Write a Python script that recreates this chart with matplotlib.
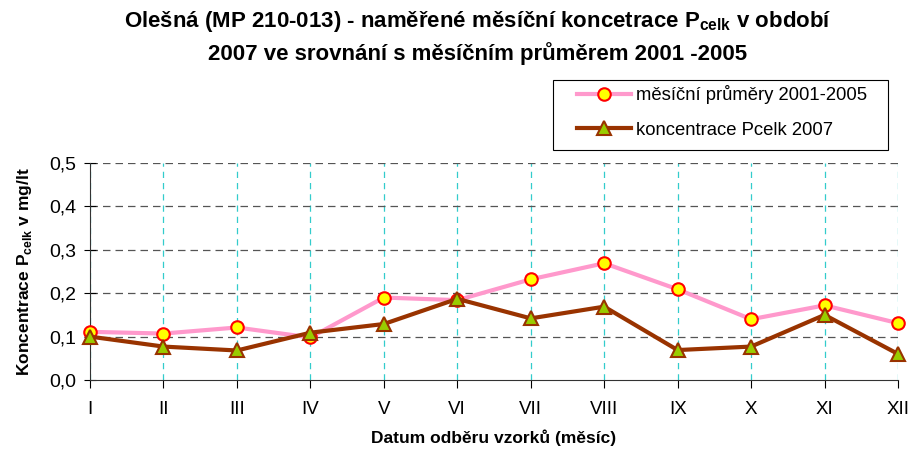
import numpy as np
import matplotlib
matplotlib.use('Agg')
import matplotlib.pyplot as plt
from matplotlib.patches import Rectangle

plt.rcParams['font.family'] = ['Liberation Sans', 'DejaVu Sans']
plt.rcParams['mathtext.fontset'] = 'custom'
plt.rcParams['mathtext.rm'] = 'Liberation Sans'
plt.rcParams['mathtext.bf'] = 'Liberation Sans:bold'

mesice = ['I', 'II', 'III', 'IV', 'V', 'VI', 'VII', 'VIII', 'IX', 'X', 'XI', 'XII']
prumery = [0.111, 0.107, 0.121, 0.098, 0.190, 0.184, 0.232, 0.269, 0.209, 0.140, 0.172, 0.131]
pcelk_2007 = [0.100, 0.077, 0.068, 0.109, 0.129, 0.187, 0.142, 0.169, 0.069, 0.077, 0.150, 0.060]
y_ticks = [0.0, 0.1, 0.2, 0.3, 0.4, 0.5]

W, H = 911, 450
fig = plt.figure(figsize=(W/100, H/100), dpi=100)
ax = fig.add_axes([90/W, 1-380/H, (898-90)/W, (380-163)/H])

x = np.arange(len(mesice))

# mrizka: svisle tyrkysove, vodorovne sede
for xi in x:
    ax.axvline(xi, color='#33cccc', lw=0.9, ls=(0, (5, 4)), zorder=1)
for yv in y_ticks[1:]:
    ax.axhline(yv, color='#555555', lw=0.9, ls=(0, (6, 4)), zorder=1)

ax.plot(x, prumery, color='#ff99cc', lw=3, marker='o', ms=9,
        mfc='#ffff00', mec='#ff0000', mew=1.5, label='měsíční průměry 2001-2005',
        zorder=3, clip_on=False)
ax.plot(x, pcelk_2007, color='#993300', lw=3, marker='^', ms=10,
        mfc='#99cc00', mec='#993300', mew=1.5, label='koncentrace Pcelk 2007',
        zorder=4, clip_on=False)

ax.set_xlim(0, 11)
ax.set_ylim(0, 0.5)
ax.set_xticks(x)
ax.set_xticklabels(mesice)
ax.set_yticks(y_ticks)
ax.set_yticklabels([f'{v:.1f}'.replace('.', ',') for v in y_ticks])
ax.tick_params(axis='y', direction='inout', length=8, labelsize=14, pad=6)
ax.tick_params(axis='x', direction='out', length=6, labelsize=13.5, pad=9)

for s in ['top', 'right']:
    ax.spines[s].set_visible(False)
ax.spines['left'].set_color('#333333')
ax.spines['bottom'].set_color('#333333')

ax.set_xlabel('Datum odběru vzorků (měsíc)', fontsize=12.5, fontweight='bold', labelpad=8)
ax.set_ylabel(r'Koncentrace P$_{\mathbf{celk}}$ v mg/lt', fontsize=12.5, fontweight='bold', labelpad=11)

fig.text(478/W, 1-22/H, r'Olešná (MP 210-013) - naměřené měsíční koncetrace P$_{\mathbf{celk}}$ v období',
         ha='center', va='center', fontsize=16, fontweight='bold')
fig.text(478/W, 1-54/H, '2007 ve srovnání s měsíčním průměrem 2001 -2005',
         ha='center', va='center', fontsize=16, fontweight='bold')

# ramecek legendy
fig.patches.append(Rectangle((553/W, 1-150/H), (888-553)/W, 70/H, transform=fig.transFigure,
                             fill=False, edgecolor='#000000', lw=0.8))
fig.legend(loc='upper left', bbox_to_anchor=(577/W, 1-85/H), fontsize=13.3,
           frameon=False, borderpad=0, borderaxespad=0, handlelength=2.9,
           labelspacing=0.95, handletextpad=0.3)

fig.savefig('out.png', dpi=100)
